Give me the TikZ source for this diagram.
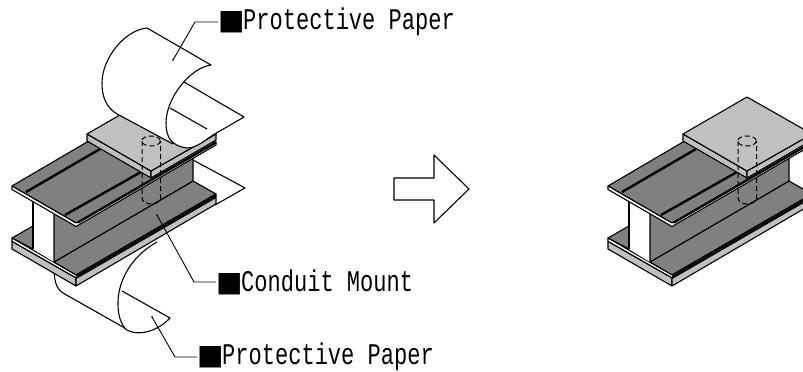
\documentclass[tikz,border=0pt]{standalone}
\usepackage{fontspec}
\newfontfamily\labfont[FakeStretch=0.735]{Liberation Mono}
\newfontfamily\boxfont{DejaVu Sans}
\definecolor{darkface}{HTML}{808080}
\definecolor{lightface}{HTML}{C0C0C0}
\tikzset{
  ln/.style={line width=1.1pt,line join=round,black},
  thick groove/.style={line width=2.4pt,black},
  hiddenline/.style={line width=1pt,dash pattern=on 5pt off 3pt,black},
  leader/.style={line width=0.9pt,black},
  lab/.style={inner sep=0pt,anchor=west,text=black,font=\fontsize{30}{30}\selectfont},
  endpt/.style={circle,fill=black,inner sep=0.6pt}
}
\newcommand{\lbl}[1]{{\boxfont\fontsize{28}{28}\selectfont ■}\hspace{-1.5pt}{\labfont #1}}
\newcommand{\ibeam}{%
  \draw[ln,fill=darkface] (12,238) -- (33,226) -- (33,249) -- cycle;
  \draw[ln,fill=darkface] (54,262) -- (76,275) -- (216,194) -- (193,181) -- cycle;
  \draw[ln,fill=white] (12,238) -- (76,275) -- (216,194) -- (216,197) -- (76,278) -- (12,241.5) -- cycle;
  \draw[ln,fill=lightface] (12,241.5) -- (76,278) -- (76,286) -- (12,249) -- cycle;
  \draw[ln,fill=lightface] (76,278.5) -- (216,197.5) -- (216,204) -- (76,286) -- cycle;
  \draw[line width=1.6pt] (76,276.5) -- (216,195.5);
  \fill[white] (33,196) -- (54,208) -- (54,262) -- (33,249) -- cycle;
  \draw[ln] (33,198) -- (33,249);
  \draw[ln,fill=darkface] (54,212) -- (76,226) -- (193,156) -- (193,181) -- (54,262) -- cycle;
  \draw[ln,fill=darkface] (12,186) -- (87,142) -- (216,142) -- (76,223) -- cycle;
  \draw[ln,fill=white] (12,186) -- (76,223) -- (216,142) -- (216,145) -- (76,226.5) -- (12,189.5) -- cycle;
  \draw[line width=1.4pt] (78,223) -- (216,143);
  \draw[thick groove] (26,192) -- (100,149);
  \draw[thick groove] (65,215) -- (141,172);
}
\newcommand{\plate}{%
  \draw[ln,fill=lightface] (87,134) -- (151,171) -- (151,178) -- (87,141) -- cycle;
  \draw[ln,fill=lightface] (151,171) -- (216,134) -- (216,140) -- (151,178) -- cycle;
  \draw[ln,fill=lightface] (87,134) -- (151,97) -- (216,134) -- (151,171) -- cycle;
}
\newcommand{\cyl}{%
  \draw[hiddenline] (151,141) ellipse [x radius=9.3,y radius=5];
  \draw[hiddenline] (142,141) -- (142,198) arc[start angle=180,end angle=360,x radius=9.3,y radius=-6] -- (160.6,141);
}
\begin{document}
\begin{tikzpicture}[x=1pt,y=-1pt]
\useasboundingbox (0,0) rectangle (803,372);
\clip (0,0) rectangle (803,372);
% back end of the lower protective paper
\draw[ln,fill=white] (193,160) -- (245,188) -- (215,205);
% lower paper
\draw[ln] (54,272) .. controls (55,285) and (58,290) .. (63,293)
  -- (123,327) .. controls (133,337) and (155,334) .. (170,318) -- (122,291);
\draw[ln] (157,242) .. controls (132,256) and (118,280) .. (118,303) .. controls (118,314) and (120,322) .. (125,328);
% left beam
\ibeam
\plate
\cyl
% upper paper: flat sheet behind the curl
\fill[white] (166,123) .. controls (166,138) and (172,146) .. (187,148)
  .. controls (197,148) and (205,140) .. (213,135) -- (244,117) -- (184,82)
  .. controls (174,92) and (166,108) .. (166,123) -- cycle;
\draw[ln] (213,135) -- (244,117) -- (184,82);
\draw[ln] (170,108) -- (207,129);
% upper paper: curl
\fill[white] (119,115) .. controls (105,108) and (102,95) .. (102,83)
  .. controls (102,58) and (125,30) .. (147,28) -- (211,65)
  .. controls (190,68) and (166,98) .. (166,123)
  .. controls (166,132) and (168,139) .. (173,144) -- cycle;
\draw[ln] (173,144) -- (119,115) .. controls (105,108) and (102,95) .. (102,83)
  .. controls (102,58) and (125,30) .. (147,28) -- (211,65)
  .. controls (190,68) and (166,98) .. (166,123)
  .. controls (166,138) and (172,146) .. (187,148)
  .. controls (197,148) and (205,140) .. (213,135);
% right beam
\begin{scope}[xshift=596pt]
\ibeam
\plate
\cyl
\end{scope}
% arrow
\node[inner sep=0pt,minimum size=0pt] (arrowtip) at (469,189) {};
\draw[ln] (394,178) -- (434,178) -- (434,155) -- (arrowtip.center) -- (434,223) -- (434,200) -- (394,200) -- cycle;
% labels
\node[lab] (top) at (218,22) {\lbl{Protective Paper}};
\node[lab] (mid) at (216,282) {\lbl{Conduit Mount}};
\node[lab] (low) at (197,357) {\lbl{Protective Paper}};
\node[endpt] (ta) at (173,60) {};
\node[endpt] (ma) at (157,215) {};
\node[endpt] (la) at (152,317) {};
\draw[leader] (ta.center) -- (195,22) -- (top.west);
\draw[leader] (ma.center) -- (194,282) -- (mid.west);
\draw[leader] (la.center) -- (175,357) -- (low.west);
\end{tikzpicture}
\end{document}
